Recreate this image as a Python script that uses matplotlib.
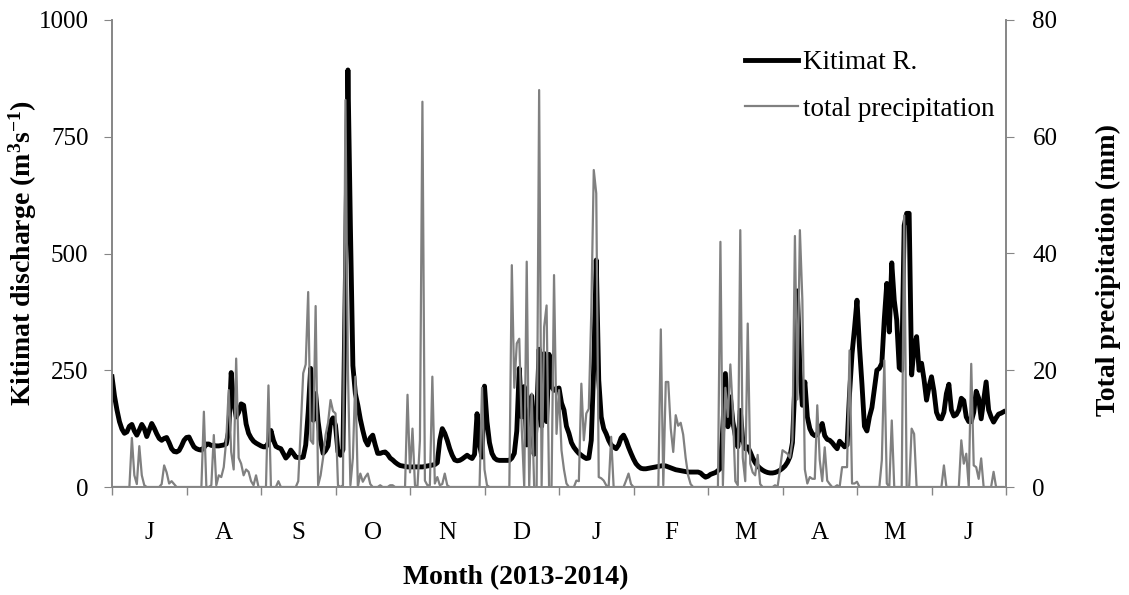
import numpy as np
import matplotlib
matplotlib.use("Agg")
import matplotlib.pyplot as plt
from matplotlib.lines import Line2D

plt.rcParams['font.family'] = 'Liberation Serif'
plt.rcParams['mathtext.fontset'] = 'custom'
plt.rcParams['mathtext.rm'] = 'Liberation Serif:bold'
plt.rcParams['mathtext.it'] = 'Liberation Serif:bold'
plt.rcParams['mathtext.bf'] = 'Liberation Serif:bold'

# daily Kitimat R. discharge (m3/s), mid-June 2013 to mid-June 2014
discharge = [
    236, 195, 165, 140, 124, 115, 118, 130, 134, 120,
    111, 122, 134, 125, 108, 122, 136, 126, 114, 104,
    100, 104, 106, 95, 82, 76, 75, 78, 88, 100,
    106, 107, 96, 86, 82, 80, 79, 84, 92, 92,
    89, 89, 88, 88, 89, 90, 92, 120, 245, 180,
    150, 160, 178, 175, 135, 115, 105, 98, 94, 91,
    88, 86, 86, 95, 121, 100, 87, 84, 82, 72,
    62, 68, 79, 72, 64, 63, 63, 64, 90, 160,
    254, 143, 200, 140, 100, 72, 78, 88, 140, 148,
    132, 75, 68, 80, 450, 893, 557, 260, 200, 175,
    145, 121, 100, 90, 105, 111, 90, 72, 72, 74,
    75, 70, 62, 58, 53, 49, 46, 45, 44, 43,
    43, 43, 43, 43, 43, 43, 44, 45, 46, 47,
    48, 52, 100, 125, 115, 100, 82, 68, 58, 56,
    57, 60, 64, 68, 64, 61, 70, 157, 90, 64,
    216, 140, 95, 72, 62, 58, 57, 57, 57, 57,
    57, 62, 72, 120, 254, 150, 215, 90, 150, 195,
    70, 150, 295, 130, 286, 140, 284, 215, 207, 210,
    212, 180, 165, 130, 115, 95, 85, 78, 72, 68,
    64, 61, 62, 100, 260, 486, 229, 150, 125, 114,
    100, 90, 86, 82, 90, 105, 111, 100, 85, 72,
    60, 50, 44, 40, 39, 39, 40, 41, 42, 43,
    44, 45, 46, 45, 43, 41, 39, 37, 36, 35,
    34, 33, 32, 32, 32, 32, 32, 30, 25, 21,
    23, 27, 29, 31, 35, 40, 130, 243, 129, 193,
    140, 110, 86, 164, 100, 82, 86, 75, 62, 52,
    45, 40, 36, 33, 31, 30, 30, 31, 33, 36,
    40, 45, 53, 65, 95, 220, 420, 250, 175, 225,
    150, 125, 114, 110, 112, 125, 136, 110, 102, 100,
    95, 88, 82, 98, 92, 86, 90, 200, 285, 340,
    400, 300, 220, 130, 120, 150, 170, 210, 250, 254,
    265, 360, 436, 332, 480, 400, 357, 255, 250, 560,
    586, 586, 240, 300, 322, 250, 265, 230, 186, 215,
    236, 205, 160, 147, 146, 160, 200, 220, 165, 152,
    155, 165, 190, 185, 150, 140, 140, 160, 205, 190,
    146, 185, 225, 165, 150, 139, 148, 156, 158, 161,
]

# daily total precipitation (mm)
precip = [
    0, 0, 0, 0, 0, 0, 0, 0, 8.4, 2,
    0.5, 7, 2, 0.3, 0, 0, 0, 0, 0, 0,
    0.5, 3.7, 2.5, 0.6, 1, 0.5, 0, 0, 0, 0,
    0, 0, 0, 0, 0, 0, 0, 12.9, 0, 0,
    0.3, 8.9, 0.3, 2, 1.7, 3.4, 8, 16.6, 6, 3,
    22, 5, 4, 2, 3, 2.6, 1, 0.3, 2, 0,
    0, 0, 0, 17.4, 0, 0, 0, 1, 0, 0,
    0, 0, 0, 0, 0, 1, 10, 19.5, 21, 33.4,
    8, 7.4, 31, 0.3, 2, 5, 8.9, 11, 14.9, 13,
    12.6, 0.3, 0, 0.3, 66.3, 20, 0.3, 5, 18.9, 0,
    2.3, 0.9, 1.7, 2.3, 0.5, 0, 0, 0, 0.3, 0,
    0, 0, 0.3, 0.3, 0, 0, 0, 0, 0, 15.8,
    2.5, 10, 0.3, 0, 8, 66, 1.1, 0.3, 0.3, 18.9,
    0.6, 1.7, 0.3, 0.5, 2.3, 0.3, 0, 0, 0, 0,
    0, 0, 0, 0, 0, 0, 0, 0, 0, 17,
    3, 0.3, 0, 0, 0, 0, 0, 0, 0, 0,
    0, 38, 17, 24.6, 25.4, 10, 0, 38.6, 0, 16,
    0, 0, 68, 0, 27.4, 31.1, 0, 0, 36.3, 9.1,
    16.6, 6.3, 3, 0.6, 0, 0, 0, 1.1, 1, 17.7,
    8, 12.6, 13.4, 30, 54.3, 50.3, 1.7, 1.5, 1.1, 0.3,
    0, 8.6, 0, 0, 0, 0, 0, 1.1, 2.3, 0.5,
    0, 0, 0, 0, 0, 0, 0, 0, 0, 0,
    0, 27, 0.3, 18, 18, 10, 6, 12.3, 10.5, 11,
    9, 5, 2, 0.5, 0, 0, 0, 0, 0, 0,
    0, 0, 0, 0, 0, 42, 0.3, 17, 12, 21,
    13, 1, 0.3, 44, 5, 1, 28, 4, 2.5, 2,
    5.5, 0.5, 0, 0, 0, 0, 0, 0.3, 0, 3,
    6.3, 6, 5.7, 5, 8, 43, 15, 44, 32, 3,
    0.6, 1.7, 1.4, 1.4, 14, 4.6, 1, 6.8, 1.1, 0.5,
    0, 0, 0.3, 0, 3.4, 3.4, 3.4, 23.4, 0.6, 0.6,
    0.9, 0, 0, 0, 0, 0, 0, 0, 0, 0,
    4.6, 21.7, 0.6, 0, 11.4, 0, 0, 0, 0, 46.5,
    0, 0, 10, 9.1, 0, 0, 0, 0, 0, 0,
    0, 0, 0, 0, 0, 3.7, 0, 0, 0, 0,
    0, 0, 8, 4, 5.7, 0, 21.1, 3.7, 3.4, 1.4,
    4.9, 0, 0, 0, 0, 2.6, 0, 0, 0, 0,
]

month_labels = ['J', 'A', 'S', 'O', 'N', 'D', 'J', 'F', 'M', 'A', 'M', 'J']
days = np.arange(len(discharge))

axis_grey = '#868686'

fig = plt.figure(figsize=(11.29, 5.95), dpi=100)
ax = fig.add_axes([112 / 1129, 1 - 487 / 595, 894 / 1129, 467 / 595])
ax2 = ax.twinx()

ax.plot(days, discharge, color='black', lw=3.5, solid_joinstyle='round')
ax2.plot(days, precip, color='#808080', lw=1.6)

ax.set_xlim(0, 360)
ax.set_ylim(0, 1000)
ax2.set_ylim(0, 80)
ax.set_yticks([0, 250, 500, 750, 1000])
ax2.set_yticks([0, 20, 40, 60, 80])

ax.set_xticks(np.arange(0, 361, 30))
ax.set_xticklabels([])
ax.set_xticks(np.arange(15, 360, 30), minor=True)
ax.set_xticklabels(month_labels, minor=True)
ax.tick_params(axis='x', which='minor', length=0, pad=25, labelsize=18)
ax.tick_params(axis='x', which='major', length=6, color=axis_grey, width=1)
ax.tick_params(axis='y', length=6, color=axis_grey, pad=11, labelsize=18)
ax2.tick_params(axis='y', length=6, color=axis_grey, pad=13, labelsize=18)

for a in (ax, ax2):
    a.spines['top'].set_visible(False)
    for s in ('left', 'right', 'bottom'):
        a.spines[s].set_color(axis_grey)
        a.spines[s].set_linewidth(1.2)

fig.text(23 / 1129, 1 - 253 / 595, r'Kitimat discharge (m$^{3}$s$^{-1}$)',
         rotation=90, ha='center', va='center', fontsize=20, fontweight='bold')
fig.text(1108 / 1129, 1 - 270 / 595, 'Total precipitation (mm)',
         rotation=90, ha='center', va='center', fontsize=20, fontweight='bold')
fig.text(516 / 1129, 1 - 578 / 595, 'Month (2013-2014)',
         ha='center', va='center', fontsize=20, fontweight='bold')

handles = [Line2D([], [], color='black', lw=3.5),
           Line2D([], [], color='#808080', lw=1.6)]
ax2.legend(handles, ['Kitimat R.', 'total precipitation'], loc='upper left',
           bbox_to_anchor=(745 / 1129, 1 - 50 / 595), bbox_transform=fig.transFigure,
           frameon=False, fontsize=19.5, handlelength=1.95, handletextpad=0.2,
           labelspacing=0.8, borderpad=0, borderaxespad=0)

fig.savefig('out.png', dpi=100)
